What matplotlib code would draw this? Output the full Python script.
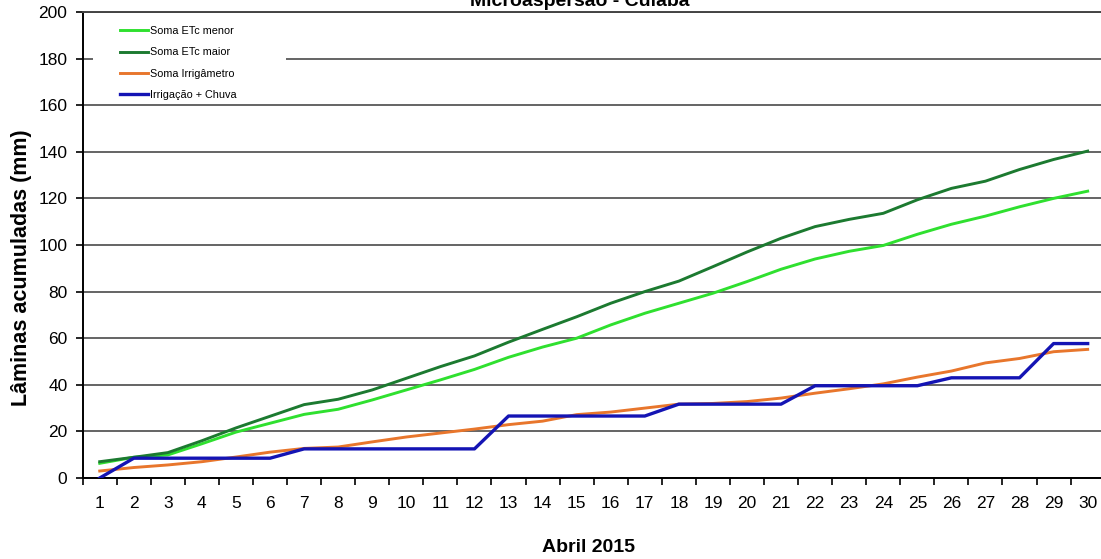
import matplotlib
matplotlib.use("Agg")
import matplotlib.pyplot as plt
import numpy as np
from matplotlib.patches import Rectangle

# Abril 2015 - laminas acumuladas (mm)
dias = list(range(1, 31))

etc_menor = [6.3, 8.9, 9.9, 14.7, 19.7, 23.5, 27.3, 29.5, 33.5, 37.8,
             42.1, 46.6, 51.8, 56.2, 60.0, 65.7, 70.7, 75.0, 79.3, 84.3,
             89.6, 94.0, 97.3, 99.8, 104.6, 108.9, 112.4, 116.4, 120.0, 123.1]

etc_maior = [7.0, 8.9, 10.9, 16.0, 21.5, 26.5, 31.5, 33.8, 37.8, 42.8,
             47.8, 52.4, 58.3, 63.8, 69.2, 75.0, 80.0, 84.5, 90.7, 97.0,
             102.9, 107.9, 111.0, 113.6, 119.4, 124.3, 127.4, 132.4, 136.7, 140.3]

irrigametro = [3.0, 4.5, 5.6, 7.0, 9.0, 11.1, 12.7, 13.3, 15.5, 17.6,
               19.3, 21.0, 22.9, 24.4, 27.2, 28.3, 30.0, 31.7, 32.0, 32.8,
               34.3, 36.4, 38.3, 40.4, 43.3, 45.9, 49.4, 51.3, 54.2, 55.2]

irrigacao_chuva = [0.0, 8.5, 8.5, 8.5, 8.5, 8.5, 12.5, 12.5, 12.5, 12.5,
                   12.5, 12.5, 26.6, 26.6, 26.6, 26.6, 26.6, 31.7, 31.7, 31.7,
                   31.7, 39.6, 39.6, 39.6, 39.6, 43.0, 43.0, 43.0, 57.7, 57.7]

y_ticks = list(range(0, 201, 20))


def plot_laminas(output_path: str):
    """Laminas acumuladas por dia - Microaspersao, Cuiaba."""
    print("Gerando grafico de laminas acumuladas...")
    plt.rcParams['font.family'] = ['Liberation Sans', 'DejaVu Sans']

    W, H = 1101, 559
    fig = plt.figure(figsize=(W / 100, H / 100), dpi=100)
    ax = fig.add_axes([82.7 / W, 81 / H, 1022 / W, 466 / H])

    ax.plot(dias, etc_menor, color='#2fe02f', lw=2.1, label='Soma ETc menor', zorder=3)
    ax.plot(dias, etc_maior, color='#1c7a30', lw=2.1, label='Soma ETc maior', zorder=3)
    ax.plot(dias, irrigametro, color='#e8762c', lw=2.1, label='Soma Irrigâmetro', zorder=3)
    ax.plot(dias, irrigacao_chuva, color='#1414b4', lw=2.4, label='Irrigação + Chuva', zorder=4)

    ax.set_xlim(0.5, 30.5)
    ax.set_ylim(0, 200)
    ax.set_yticks(y_ticks)
    ax.set_xticks(dias)
    ax.set_xticks(np.arange(0.5, 31, 1), minor=True)
    ax.tick_params(axis='x', which='major', length=0, pad=13, labelsize=12.5)
    ax.tick_params(axis='x', which='minor', length=5, width=1.2, direction='out')
    ax.tick_params(axis='y', length=5, width=1.2, labelsize=12.5, pad=6)

    ax.grid(axis='y', color='#3a3a3a', lw=1.1)
    ax.set_axisbelow(True)
    for side in ['left', 'bottom']:
        ax.spines[side].set_color('black')
        ax.spines[side].set_linewidth(1.4)
    ax.spines['top'].set_color('#444444')
    ax.spines['top'].set_linewidth(1.4)
    ax.spines['right'].set_visible(False)

    # fundo branco da legenda (esconde a linha de grade)
    ax.add_patch(Rectangle((93 / W, 1 - 103 / H), (286 - 93) / W, (103 - 18) / H,
                           transform=fig.transFigure, facecolor='white',
                           edgecolor='none', zorder=1, clip_on=False))
    ax.legend(loc='upper left', bbox_to_anchor=(120 / W, 1 - 26 / H),
              bbox_transform=fig.transFigure, frameon=False, fontsize=7.8,
              handlelength=2.6, handletextpad=0.2, labelspacing=1.05,
              borderpad=0, borderaxespad=0)

    fig.text(580 / W, 1 - 6 / H, 'Microaspersão - Cuiabá', ha='center',
             va='baseline', fontsize=14, fontweight='bold')
    fig.text(22 / W, 1 - 268 / H, 'Lâminas acumuladas (mm)', rotation=90,
             ha='center', va='center', fontsize=15.5, fontweight='bold')
    fig.text(588 / W, 1 - 548 / H, 'Abril 2015', ha='center', va='center',
             fontsize=14, fontweight='bold')

    fig.savefig(output_path, dpi=100)
    print(f"Grafico salvo em {output_path}")
    plt.close(fig)


if __name__ == '__main__':
    plot_laminas("out.png")
